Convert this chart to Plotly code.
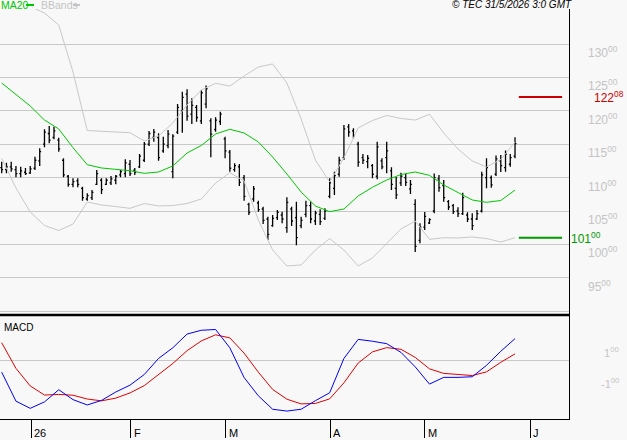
import plotly.graph_objects as go

# ---------------- data ----------------
highs = [112.38,112.23,112.38,111.74,111.63,111.44,111.74,113.13,114.39,117.23,
         117.72,117.62,115.97,112.89,110.39,109.9,109.9,108.64,107.65,108.14,
         111.14,109.9,109.9,110.24,110.39,111.14,112.74,112.63,111.44,113.53,
         115.33,116.98,117.28,116.63,116.12,117.13,116.48,121.02,122.86,123.22,
         121.87,120.87,123.11,123.8,118.88,119.03,119.87,116.12,114.13,112.14,
         112.04,110.39,106.24,108.74,106.54,105.64,104.15,104.4,105.15,104.9,
         107.05,105.64,106.39,104.15,106.54,106.39,105.04,105.25,105.4,109.9,
         110.88,113.13,117.87,118.02,117.38,115.37,113.53,113.38,112.04,115.37,
         112.89,115.37,111.54,110.09,110.73,110.54,109.64,106.75,103.16,104.85,
         103.9,110.61,110.39,109.64,106.65,106.05,105.55,107.74,104.81,104.66,
         105.15,110.88,112.89,110.31,113.31,113.38,114.06,113.53,116.03]
lows = [110.64,110.64,110.88,110.04,110.04,110.39,110.54,111.14,111.74,114.54,
        115.13,115.73,113.88,110.04,108.64,108.55,108.55,106.54,106.54,106.65,
        108.89,107.54,108.89,108.89,109.0,110.04,110.04,110.24,110.39,111.44,
        112.34,114.73,115.37,112.53,113.73,114.39,109.9,116.53,116.72,118.52,
        118.02,118.37,118.02,120.4,113.04,116.87,117.87,112.89,110.88,110.88,
        108.74,106.54,104.4,106.39,104.9,103.05,100.66,102.65,103.65,103.16,
        101.75,102.75,99.87,102.41,104.06,103.16,102.9,102.9,103.65,106.9,
        107.4,110.13,112.63,116.12,115.88,111.63,112.04,111.39,109.9,109.75,
        111.24,110.64,108.14,106.8,108.74,108.74,107.54,98.86,100.16,102.16,
        103.05,104.66,107.89,106.39,105.15,104.55,104.1,104.4,103.35,102.16,
        103.65,104.78,108.4,108.47,110.24,110.84,110.88,111.63,112.89]
opens = [111.5,111.2,111.6,111.2,110.6,110.8,110.7,111.4,112.5,115.0,
         116.6,116.0,115.6,112.6,110.2,109.0,109.5,108.4,106.8,107.0,
         109.0,109.6,109.0,109.2,109.6,110.4,110.6,112.0,111.1,111.6,
         112.6,115.0,116.0,116.0,114.0,114.8,110.9,116.8,120.0,122.5,
         119.5,120.5,118.5,121.0,118.5,117.2,118.4,115.8,113.8,111.2,
         111.6,110.0,106.0,106.8,106.2,105.3,103.8,102.8,104.0,104.4,
         102.5,105.3,104.0,102.8,104.5,105.8,103.5,104.5,103.9,107.2,
         108.4,110.5,113.0,117.6,117.0,115.0,113.0,112.4,111.8,110.2,
         112.5,113.0,111.0,108.4,109.2,110.0,108.3,106.0,100.6,102.6,
         103.2,105.0,109.8,108.8,106.4,105.8,105.0,104.6,104.4,103.8,
         103.8,105.0,110.0,110.0,110.5,112.5,111.5,112.0,113.2]
closes = [111.2,111.6,111.3,110.6,111.0,110.6,111.3,112.6,113.9,116.8,
          115.6,117.0,114.3,110.4,109.0,109.4,109.0,107.0,107.3,107.8,
          110.6,108.2,109.6,109.8,110.2,110.9,112.2,110.6,110.8,113.2,
          115.0,116.6,116.8,113.0,115.0,116.5,116.2,120.5,122.0,119.2,
          120.8,119.0,122.7,123.3,116.5,118.6,119.5,114.0,111.4,111.8,
          109.3,107.2,104.8,108.3,105.2,103.6,101.5,103.9,104.8,103.8,
          106.3,103.5,101.0,103.6,105.8,103.8,104.7,103.4,105.0,109.2,
          110.3,112.6,117.3,116.8,116.3,112.3,112.6,112.9,110.5,114.6,
          111.6,114.0,109.0,107.4,110.2,109.3,109.0,99.7,102.6,104.2,
          103.7,110.0,108.5,107.0,105.6,104.9,104.6,107.0,103.8,102.8,
          104.6,110.4,111.5,108.9,112.8,111.8,113.5,113.0,115.1]

# indicator readings, every 3rd bar
ind_idx = list(range(0, 109, 3))
ma20 = [124.16,122.37,120.72,118.62,117.28,114.48,111.93,111.44,111.18,111.03,
        110.64,110.84,111.74,113.68,114.81,116.53,117.23,116.68,115.33,113.08,
        110.54,107.84,105.75,104.9,105.3,107.25,108.55,109.64,110.46,110.84,
        110.34,108.89,107.77,106.65,106.3,106.57,108.14]
bb_upper = [136.0,136.6,135.6,134.64,132.84,125.81,117.05,116.93,116.83,116.72,
            115.48,116.23,118.17,120.87,123.11,124.12,123.71,125.21,126.56,127.01,
            124.16,118.77,112.63,109.34,112.93,117.43,118.55,119.3,118.85,118.62,
            119.48,116.68,114.28,112.49,111.59,112.71,115.33]
bb_lower = [112.89,108.44,104.85,102.83,102.08,103.05,106.35,105.9,105.67,105.4,
            106.12,105.75,105.82,106.12,106.8,109.19,110.73,109.49,103.65,99.16,
            96.77,96.92,99.16,100.88,99.16,96.77,97.96,100.21,102.31,103.5,
            100.76,101.0,100.96,101.11,100.88,100.36,101.0]
macd = [-0.75,-2.65,-3.12,-2.70,-1.90,-2.55,-2.90,-2.60,-2.05,-1.60,
        -0.90,0.15,0.85,1.75,2.00,2.05,0.85,-1.10,-2.30,-3.18,
        -3.30,-3.18,-2.62,-2.10,0.15,1.40,1.28,1.12,0.55,-0.40,
        -1.53,-1.09,-1.09,-1.05,-0.30,0.62,1.45]
signal = [1.18,-0.50,-1.65,-2.25,-2.21,-2.26,-2.51,-2.63,-2.45,-2.11,
          -1.63,-0.91,-0.18,0.66,1.30,1.70,1.50,0.50,-0.75,-1.88,
          -2.52,-2.83,-2.80,-2.50,-1.45,-0.15,0.58,0.86,0.75,0.22,
          -0.53,-0.83,-0.92,-0.97,-0.73,-0.10,0.45]

month_labels = ["26", "F", "M", "A", "M", "J"]
month_pos = [6.21, 27.16, 47.19, 69.16, 89.02, 111.15]
price_ticks = [95, 100, 105, 110, 115, 120, 125, 130]
grid_ticks = [90] + price_ticks
macd_ticks = [1, -1]
level_high = 122.08
level_low = 101.00

bar_idx = list(range(len(highs)))
n = len(highs)

BG = "#f8f8f8"
GRID = "#c8c8c8"
FONT = "Liberation Sans, Arial, sans-serif"
W, H = 627, 440
PX_R = 569  # right edge of plot in pixels


def fmt(v):
    whole = int(v)
    frac = int(round(abs(v - whole) * 100))
    return f"{whole}<sup>{frac:02d}</sup>"


fig = go.Figure()

fig.add_trace(go.Scatter(x=ind_idx, y=bb_upper, mode="lines",
                         line=dict(color=GRID, width=1), hoverinfo="skip",
                         xaxis="x", yaxis="y"))
fig.add_trace(go.Scatter(x=ind_idx, y=bb_lower, mode="lines",
                         line=dict(color=GRID, width=1), hoverinfo="skip",
                         xaxis="x", yaxis="y"))
fig.add_trace(go.Scatter(x=ind_idx, y=ma20, mode="lines",
                         line=dict(color="#00c800", width=1), hoverinfo="skip",
                         xaxis="x", yaxis="y"))
fig.add_trace(go.Ohlc(x=bar_idx, open=opens, high=highs, low=lows, close=closes,
                      increasing=dict(line=dict(color="black", width=1.3)),
                      decreasing=dict(line=dict(color="black", width=1.3)),
                      tickwidth=0.3, hoverinfo="skip", xaxis="x", yaxis="y"))

fig.add_trace(go.Scatter(x=ind_idx, y=signal, mode="lines",
                         line=dict(color="#e00000", width=1), hoverinfo="skip",
                         xaxis="x2", yaxis="y2"))
fig.add_trace(go.Scatter(x=ind_idx, y=macd, mode="lines",
                         line=dict(color="#0000f0", width=1), hoverinfo="skip",
                         xaxis="x2", yaxis="y2"))

x_lo = -1.7 / 4.753
x_hi = x_lo + PX_R / 4.753
xdom = [0, PX_R / W]
top_dom = [(H - 315) / H, (H - 9) / H]
macd_dom = [(H - 419) / H, (H - 315) / H]
p_per_px = 1 / 6.68
y_top_range = [130 - (315 - 44) * p_per_px, 130 + (44 - 9) * p_per_px]

fig.update_layout(
    width=W, height=H, margin=dict(l=0, r=0, t=0, b=0),
    paper_bgcolor=BG, plot_bgcolor=BG, showlegend=False,
    font=dict(family=FONT, size=11, color="black"),
    xaxis=dict(domain=xdom, range=[x_lo, x_hi], showgrid=False, zeroline=False,
               showticklabels=False, ticks="", anchor="y",
               rangeslider=dict(visible=False)),
    yaxis=dict(domain=top_dom, range=y_top_range, side="right", anchor="x",
               showline=True, linecolor="black", linewidth=1,
               tickvals=grid_ticks, showticklabels=False, ticks="",
               showgrid=True, gridcolor=GRID, gridwidth=1, zeroline=False),
    xaxis2=dict(domain=xdom, range=[x_lo, x_hi], anchor="y2", showgrid=False,
                zeroline=False, showline=True, mirror=True, linecolor="black",
                linewidth=1, tickvals=month_pos, ticks="outside", ticklen=18,
                tickcolor="black", tickwidth=1, showticklabels=False),
    yaxis2=dict(domain=macd_dom, range=[-3.82, 3.0], anchor="x2", side="right",
                showline=True, mirror=True, linecolor="black", linewidth=1,
                tickvals=[0], showticklabels=False, ticks="", showgrid=True,
                gridcolor=GRID, zeroline=False),
)

shapes = []
# thicker separator between panels
shapes.append(dict(type="line", xref="paper", yref="paper", x0=0, x1=PX_R / W,
                   y0=macd_dom[1], y1=macd_dom[1], line=dict(color="black", width=2.5)))
# level lines
shapes.append(dict(type="line", xref="x", yref="y", x0=n - 0.2, x1=n + 8.9,
                   y0=level_high, y1=level_high, line=dict(color="#cc0000", width=2)))
shapes.append(dict(type="line", xref="x", yref="y", x0=n - 0.2, x1=n + 8.9,
                   y0=level_low, y1=level_low, line=dict(color="#009900", width=2)))
# legend sample dashes
legend_y = (H - 5) / H
shapes.append(dict(type="line", xref="paper", yref="paper", x0=26 / W, x1=34 / W,
                   y0=legend_y, y1=legend_y, line=dict(color="#00c800", width=2)))
shapes.append(dict(type="line", xref="paper", yref="paper", x0=73 / W, x1=80 / W,
                   y0=legend_y, y1=legend_y, line=dict(color="#c4c4c4", width=2)))
fig.update_layout(shapes=shapes)

ann = []
for v in price_ticks:
    ann.append(dict(x=586 / W, xref="paper", y=v, yref="y", xanchor="left",
                    yanchor="top", yshift=2, text=fmt(v), showarrow=False,
                    font=dict(size=12, color="#c4c4c4", family=FONT)))
for v in macd_ticks:
    ann.append(dict(x=621 / W, xref="paper", y=v, yref="y2", xanchor="right",
                    yanchor="top", yshift=2, text=fmt(v), showarrow=False,
                    font=dict(size=11, color="#c4c4c4", family=FONT)))
ann.append(dict(x=592 / W, xref="paper", y=level_high, yref="y", xanchor="left",
                yanchor="middle", text=fmt(level_high), showarrow=False,
                font=dict(size=12, color="#cc0000", family=FONT)))
ann.append(dict(x=569 / W, xref="paper", y=level_low, yref="y", xanchor="left",
                yanchor="middle", text=fmt(level_low), showarrow=False,
                font=dict(size=12, color="#009900", family=FONT)))
for lab, pos in zip(month_labels, month_pos):
    ann.append(dict(x=pos, xref="x2", y=(H - 432.5) / H, yref="paper",
                    xanchor="left", yanchor="middle", xshift=1, text=lab,
                    showarrow=False, font=dict(size=11, color="black", family=FONT)))
ann.append(dict(x=-1 / W, xref="paper", y=(H - 4.5) / H, yref="paper", xanchor="left",
                yanchor="middle", text="MA20", showarrow=False,
                font=dict(size=10.5, color="#00c800", family=FONT)))
ann.append(dict(x=39 / W, xref="paper", y=(H - 4.5) / H, yref="paper", xanchor="left",
                yanchor="middle", text="BBands", showarrow=False,
                font=dict(size=10.5, color="#c4c4c4", family=FONT)))
ann.append(dict(x=574 / W, xref="paper", y=(H - 4.5) / H, yref="paper", xanchor="right",
                yanchor="middle", text="<i>© TEC 31/5/2026 3:0 GMT</i>", showarrow=False,
                font=dict(size=10, color="black", family=FONT)))
ann.append(dict(x=2 / W, xref="paper", y=(H - 327.5) / H, yref="paper", xanchor="left",
                yanchor="middle", text="MACD", showarrow=False,
                font=dict(size=10, color="black", family=FONT)))
fig.update_layout(annotations=ann)

fig.write_html("out.html")
